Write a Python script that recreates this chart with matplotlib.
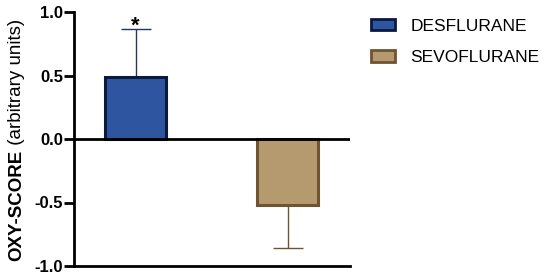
import matplotlib
matplotlib.use("Agg")
import matplotlib.pyplot as plt
from matplotlib.patches import Patch

plt.rcParams['font.family'] = ['Liberation Sans', 'DejaVu Sans']

groups = ["DESFLURANE", "SEVOFLURANE"]
means = [0.49, -0.52]
errs = [0.376, 0.34]
fills = ["#2E56A0", "#B49A6E"]
edges = ["#0B1A3C", "#6E5530"]
errcolors = ["#22365E", "#6E5530"]
yticks = [-1.0, -0.5, 0.0, 0.5, 1.0]

fig = plt.figure(figsize=(5.5, 2.8), dpi=100)
ax = fig.add_axes([74/550, 14/280, 276/550, 254/280])

xs = list(range(len(groups)))
for i, (m, e) in enumerate(zip(means, errs)):
    yerr = [[0], [e]] if m >= 0 else [[e], [0]]
    ax.errorbar(xs[i], m, yerr=yerr, fmt='none', ecolor=errcolors[i],
                elinewidth=1.0, capsize=10.8, capthick=1.0, zorder=1)
    ax.bar(xs[i], m, width=0.4, color=fills[i], edgecolor=edges[i],
           linewidth=2.2, zorder=2)

ax.axhline(0, color='black', linewidth=2, zorder=3)
ax.text(xs[0], means[0] + errs[0] - 0.02, "*", ha='center', va='baseline',
        fontsize=15.5, fontweight='bold')

ax.set_xlim(-0.405, 1.41)
ax.set_ylim(-1.0, 1.0)
ax.set_yticks(yticks)
ax.set_yticklabels([f"{t:.1f}" for t in yticks], fontweight='bold', fontsize=12)
ax.set_xticks([])
ax.spines['top'].set_visible(False)
ax.spines['right'].set_visible(False)
ax.spines['left'].set_linewidth(2)
ax.spines['bottom'].set_linewidth(2)
ax.tick_params(axis='y', direction='out', length=7, width=2, pad=1)
ax.patch.set_visible(False)

# y label: bold part + normal part
fig.canvas.draw()
r = fig.canvas.get_renderer()
lx = 17/550
t1 = fig.text(lx, 0, "OXY-SCORE", rotation=90, ha='center', va='bottom',
              fontsize=13.5, fontweight='bold')
t2 = fig.text(lx, 0, " (arbitrary units)", rotation=90, ha='center', va='bottom',
              fontsize=13.5)
h1 = t1.get_window_extent(r).height
h2 = t2.get_window_extent(r).height
total = h1 + h2
center = 280 - 140
start = center - total / 2
t1.set_position((lx, start / 280))
t2.set_position((lx, (start + h1) / 280))

handles = [Patch(facecolor=f, edgecolor=e, linewidth=2) for f, e in zip(fills, edges)]
fig.legend(handles, groups, loc='upper left', bbox_to_anchor=(355/550, 1 - 3/280),
           frameon=False, fontsize=12.5, handlelength=1.38, handleheight=0.63,
           handletextpad=0.92, labelspacing=0.95)

fig.savefig("out.png", dpi=100)
